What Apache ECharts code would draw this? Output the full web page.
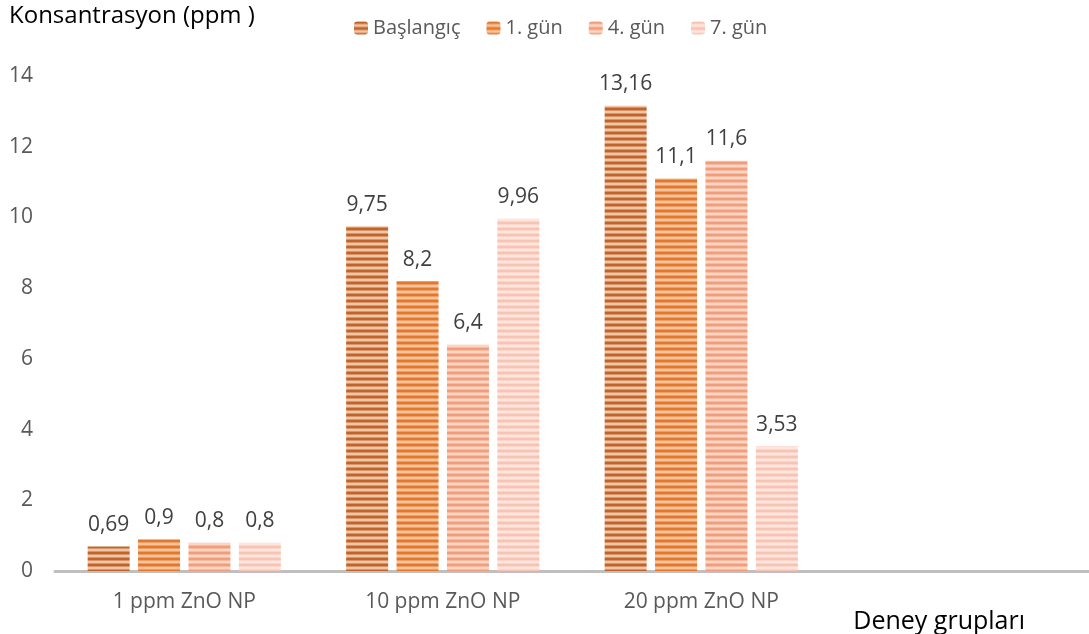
<!DOCTYPE html>
<html>
<head>
<meta charset="utf-8">
<script src="https://cdn.jsdelivr.net/npm/echarts@6/dist/echarts.min.js"></script>
<style>
html,body{margin:0;padding:0;background:#fff;}
#chart{width:1089px;height:634px;}
</style>
</head>
<body>
<div id="chart"></div>
<script>
// Experiment groups (the last slot is left empty)
const categories = ['1 ppm ZnO NP', '10 ppm ZnO NP', '20 ppm ZnO NP', ''];
const seriesNames = ['Başlangıç', '1. gün', '4. gün', '7. gün'];
const baslangic = [0.69, 9.75, 13.16];
const gun1 = [0.9, 8.2, 11.1];
const gun4 = [0.8, 6.4, 11.6];
const gun7 = [0.8, 9.96, 3.53];
const yTicks = [0, 2, 4, 6, 8, 10, 12, 14];

// Horizontal-stripe fills: [dark band, light band]
const stripeColors = [
  ['#c0642a', '#efc6a8'],
  ['#e2782e', '#f6c39c'],
  ['#f19d7c', '#fbd6c4'],
  ['#f8c3b3', '#fde6de']
];

function mix(a, b, t) {
  const pa = [1, 3, 5].map(i => parseInt(a.substr(i, 2), 16));
  const pb = [1, 3, 5].map(i => parseInt(b.substr(i, 2), 16));
  return 'rgb(' + pa.map((v, i) => Math.round(v + (pb[i] - v) * t)).join(',') + ')';
}
function stripe(dark, light) {
  const c = document.createElement('canvas');
  c.width = 4; c.height = 6;
  const g = c.getContext('2d');
  const rows = [dark, dark, mix(dark, light, 0.5), light, light, mix(dark, light, 0.5)];
  rows.forEach((col, i) => { g.fillStyle = col; g.fillRect(0, i, 4, 1); });
  return { image: c, repeat: 'repeat' };
}

const values = [baslangic, gun1, gun4, gun7];
const font = '"Open Sans", sans-serif';

const chart = echarts.init(document.getElementById('chart'));
chart.setOption({
  animation: false,
  textStyle: { fontFamily: font },
  grid: { left: 55, right: 0, top: 76, bottom: 61, containLabel: false },
  legend: {
    data: seriesNames,
    top: 13,
    left: 349,
    itemWidth: 14,
    itemHeight: 13,
    itemGap: 26,
    textStyle: { fontSize: 20, color: '#595959', fontFamily: font }
  },
  xAxis: {
    type: 'category',
    data: categories,
    name: 'Deney grupları',
    nameLocation: 'end',
    nameGap: 0,
    nameTextStyle: {
      fontSize: 25, color: '#000', fontFamily: font,
      align: 'right', verticalAlign: 'top', padding: [38, 64, 0, 0]
    },
    axisLine: { lineStyle: { color: '#bfbfbf', width: 3 } },
    axisTick: { show: false },
    axisLabel: { fontSize: 21, color: '#595959', margin: 21, fontFamily: font }
  },
  yAxis: {
    type: 'value',
    min: yTicks[0],
    max: yTicks[yTicks.length - 1],
    interval: 2,
    name: 'Konsantrasyon (ppm )',
    nameLocation: 'end',
    nameGap: 0,
    nameTextStyle: {
      fontSize: 24, color: '#000', fontFamily: font,
      align: 'left', verticalAlign: 'bottom', padding: [0, 0, 48, -46]
    },
    splitLine: { show: false },
    axisLine: { show: false },
    axisTick: { show: false },
    axisLabel: { fontSize: 21, color: '#595959', margin: 22, fontFamily: font }
  },
  series: seriesNames.map((name, i) => ({
    name: name,
    type: 'bar',
    data: values[i],
    barWidth: 42,
    barGap: '20%',
    itemStyle: { color: stripe(stripeColors[i][0], stripeColors[i][1]) },
    label: {
      show: true,
      position: 'top',
      distance: 11,
      fontSize: 21,
      color: '#404040',
      fontFamily: font,
      formatter: p => String(p.value).replace('.', ',')
    }
  }))
});
</script>
</body>
</html>
